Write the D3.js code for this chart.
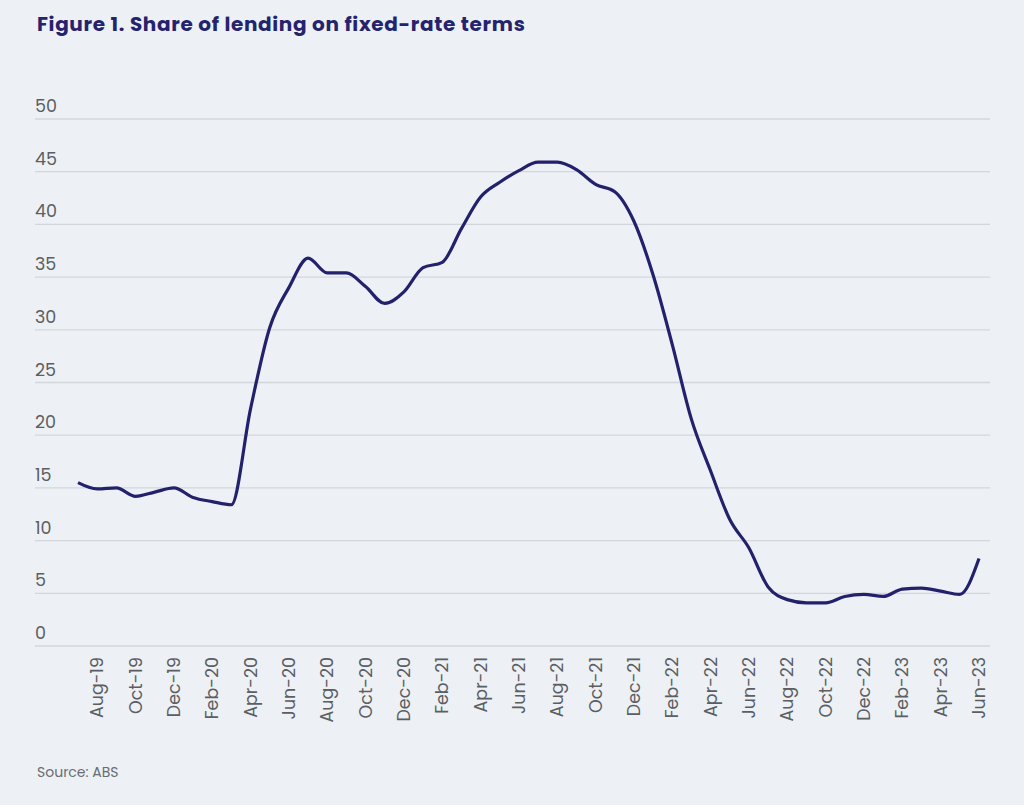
<!DOCTYPE html>
<html>
<head>
<meta charset="utf-8">
<script src="https://cdn.jsdelivr.net/npm/d3@7/dist/d3.min.js"></script>
<style>
  html, body { margin: 0; padding: 0; background: #edf1f5; }
  svg { display: block; }
</style>
</head>
<body>
<svg id="chart" width="1024" height="805"></svg>
<script>
const months = ["Jul-19","Aug-19","Sep-19","Oct-19","Nov-19","Dec-19","Jan-20","Feb-20","Mar-20","Apr-20","May-20","Jun-20",
  "Jul-20","Aug-20","Sep-20","Oct-20","Nov-20","Dec-20","Jan-21","Feb-21","Mar-21","Apr-21","May-21","Jun-21",
  "Jul-21","Aug-21","Sep-21","Oct-21","Nov-21","Dec-21","Jan-22","Feb-22","Mar-22","Apr-22","May-22","Jun-22",
  "Jul-22","Aug-22","Sep-22","Oct-22","Nov-22","Dec-22","Jan-23","Feb-23","Mar-23","Apr-23","May-23","Jun-23"];
const fixedShare = [15.5,14.9,15.0,14.2,14.6,15.0,14.1,13.7,13.4,22.5,30.2,34.0,
  36.8,35.4,35.4,34.1,32.5,33.6,35.9,36.4,39.6,42.6,44.0,45.1,
  45.9,45.9,45.2,43.8,43.1,40.3,35.2,28.6,21.5,16.6,12.0,9.3,
  5.6,4.4,4.1,4.1,4.7,4.9,4.7,5.4,5.5,5.2,4.9,8.3];
const xTickLabels = ["Aug-19","Oct-19","Dec-19","Feb-20","Apr-20","Jun-20","Aug-20","Oct-20","Dec-20","Feb-21","Apr-21","Jun-21",
  "Aug-21","Oct-21","Dec-21","Feb-22","Apr-22","Jun-22","Aug-22","Oct-22","Dec-22","Feb-23","Apr-23","Jun-23"];
const yTicks = [0,5,10,15,20,25,30,35,40,45,50];

const svg = d3.select("#chart");
const font = "Poppins, Inter, 'Open Sans', sans-serif";

const x = d3.scalePoint().domain(months).range([78, 979]);
const y = d3.scaleLinear().domain([0, 50]).range([646, 119]);
const gridLeft = 35, gridRight = 990;

// Title
svg.append("text")
  .attr("x", 37).attr("y", 31)
  .attr("font-family", font)
  .attr("font-weight", 700)
  .attr("font-size", 20)
  .attr("letter-spacing", 0.65)
  .attr("fill", "#25236d")
  .text("Figure 1. Share of lending on fixed-rate terms");

// Gridlines + y labels
const yAxis = svg.append("g");
yAxis.selectAll("line").data(yTicks).join("line")
  .attr("x1", gridLeft).attr("x2", gridRight)
  .attr("y1", d => y(d)).attr("y2", d => y(d))
  .attr("stroke", "#d3d7dc").attr("stroke-width", 1.3);
yAxis.selectAll("text").data(yTicks).join("text")
  .attr("x", 35).attr("y", d => y(d) - 7)
  .attr("font-family", font).attr("font-size", 17.5)
  .attr("fill", "#5b5e63")
  .text(d => d);

// X axis labels
const xAxis = svg.append("g");
xAxis.selectAll("text").data(xTickLabels).join("text")
  .attr("transform", d => `translate(${x(d) + 6},657) rotate(-90)`)
  .attr("text-anchor", "end")
  .attr("font-family", font).attr("font-size", 17.5)
  .attr("fill", "#5b5e63")
  .text(d => d);

// Line
const line = d3.line()
  .x((d, i) => x(months[i]))
  .y(d => y(d))
  .curve(d3.curveMonotoneX);
svg.append("path")
  .datum(fixedShare)
  .attr("d", line)
  .attr("fill", "none")
  .attr("stroke", "#24216c")
  .attr("stroke-width", 3.2)
  .attr("stroke-linejoin", "round");

// Source
svg.append("text")
  .attr("x", 37).attr("y", 777)
  .attr("font-family", font).attr("font-size", 14)
  .attr("fill", "#6a6d72")
  .text("Source: ABS");
</script>
</body>
</html>
